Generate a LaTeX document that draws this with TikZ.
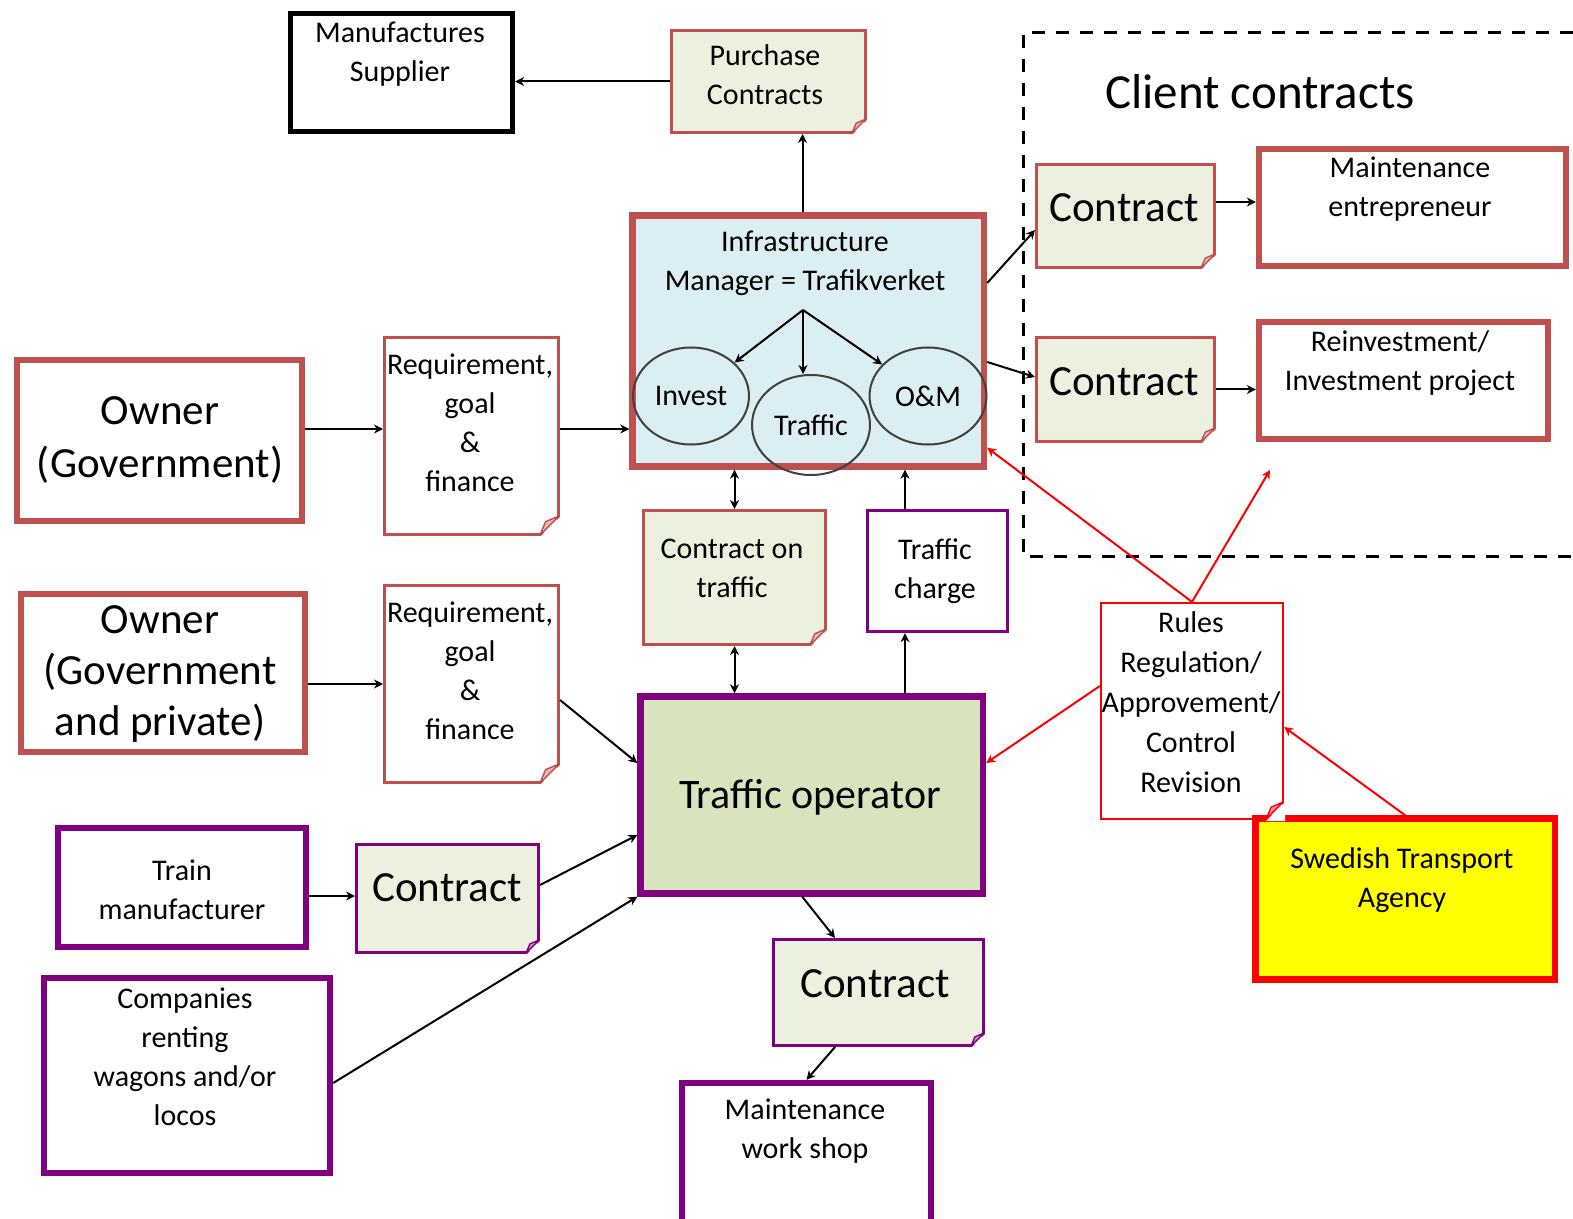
\documentclass[tikz,border=0pt]{standalone}
\usepackage{fontspec}
\setmainfont{Carlito}
\usetikzlibrary{arrows.meta,calc,fit,shapes.geometric}

\definecolor{brick}{HTML}{C0504D}
\definecolor{plum}{HTML}{800080}
\definecolor{paper}{HTML}{EBF1DE}
\definecolor{sky}{HTML}{DAEEF3}
\definecolor{olive}{HTML}{D7E4BD}
\definecolor{lemon}{HTML}{FFFF00}
\definecolor{signal}{HTML}{FF0000}

\tikzset{
  box/.style={rectangle, inner sep=0pt, fill=white},
  heavy/.style={box, line width=3.2pt},
  note/.style={box, fill=paper, line width=1.5pt},
  small/.style={font=\fontsize{15}{19.5}\selectfont, align=center, inner sep=0pt},
  large/.style={font=\fontsize{21.5}{26.5}\selectfont, align=center, inner sep=0pt},
  title/.style={font=\fontsize{24.5}{29}\selectfont, inner sep=0pt},
  conn/.style={line width=1pt, -{Stealth[length=4.5pt,width=4.5pt]}},
  twoway/.style={line width=1pt, {Stealth[length=4.5pt,width=4.5pt]}-{Stealth[length=4.5pt,width=4.5pt]}},
  redconn/.style={conn, draw=signal, color=signal},
  bubble/.style={ellipse, draw=black!75, line width=1pt, inner sep=0pt,
    font=\fontsize{15}{19.5}\selectfont},
}

% folded lower right corner of a note box: node, colour, size
\newcommand\dogear[3]{%
  \fill[white] ($(#1.south east)+(-#3,1)$) -- ($(#1.south east)+(1,1)$)
     -- ($(#1.south east)+(1,-#3)$) -- cycle;
  \filldraw[draw=#2, fill=#2!40, line width=0.7pt, line join=round]
     ($(#1.south east)+(-#3,-1)$) -- ($(#1.south east)+(-1,-#3)$)
     -- ($(#1.south east)+(-0.72*#3,-0.72*#3)$) -- cycle;
}

\begin{document}
\begin{tikzpicture}[x=0.5pt,y=-0.5pt]
\useasboundingbox (0,0) rectangle (1573,1219);
\clip (0,0) rectangle (1573,1219);

% frame around the client contracts
\draw[line width=1.5pt, dash pattern=on 6.5pt off 5.5pt]
  (1573,33) -- (1023,33) -- (1023,556) -- (1573,556);
\node[title] (cc-t) at (1260,92) {Client contracts};

% boxes
\node[heavy, draw=black, line width=2.6pt, fit={(290.5,13.5) (512.5,131.5)}] (ms) {};
\node[note, draw=brick, fit={(671.5,30.5) (865.5,132.5)}] (pc) {};
\node[note, draw=brick, fit={(1036.5,164.5) (1214.5,267.5)}] (c1) {};
\node[heavy, draw=brick, fit={(1259,149) (1566,266)}] (me) {};
\node[note, draw=brick, fit={(1036.5,337.5) (1214.5,441.5)}] (c2) {};
\node[heavy, draw=brick, fit={(1259,322) (1548,439)}] (ri) {};
\node[heavy, draw=brick, fill=sky, fit={(632.5,215.5) (984,466.5)}] (im) {};
\node[heavy, draw=brick, fit={(17,360) (302,521)}] (o1) {};
\node[note, draw=brick, fill=white, fit={(384.5,337.5) (558.5,534.5)}] (r1) {};
\node[heavy, draw=brick, fit={(21,594) (305,752)}] (o2) {};
\node[note, draw=brick, fill=white, fit={(384.5,585.5) (558.5,782.5)}] (r2) {};
\node[note, draw=brick, fit={(643.5,510.5) (825.5,644.5)}] (ct) {};
\node[box, draw=plum, line width=1.6pt, fit={(867.5,510.5) (1007.5,631.5)}] (tc) {};
\node[heavy, draw=plum, fill=olive, fit={(640.5,696.5) (983,893.5)}] (to) {};
\node[box, draw=signal, line width=1.1pt, fit={(1101,603) (1283,819)}] (ru) {};
\node[heavy, draw=signal, fill=lemon, fit={(1255.5,818.5) (1555,979.5)}] (sta) {};
\node[heavy, draw=plum, fit={(58,828) (306,947)}] (tm) {};
\node[note, draw=plum, fit={(356.5,844.5) (538.5,952.5)}] (cb) {};
\node[heavy, draw=plum, fit={(44,978) (330,1173)}] (co) {};
\node[note, draw=plum, fit={(773.5,939.5) (983.5,1045.5)}] (cm) {};
\node[heavy, draw=plum, fit={(682,1083) (931,1240)}] (mw) {};

% folded corners
\dogear{pc}{brick}{15}
\dogear{c1}{brick}{15}
\dogear{c2}{brick}{15}
\dogear{r1}{brick}{20}
\dogear{r2}{brick}{20}
\dogear{ct}{brick}{17}
\dogear{cb}{plum}{14}
\dogear{cm}{plum}{14}
\dogear{ru}{signal}{18}

% the three activities of the infrastructure manager
\node[bubble, minimum width=58pt, minimum height=48.5pt] (ei) at (691,396) {Invest};
\node[bubble, minimum width=59pt, minimum height=50pt] (et) at (811,425) {Traffic};
\node[bubble, minimum width=58.5pt, minimum height=48.5pt] (eo) at (928,396) {O\&M};
\coordinate (hub) at (803,310);

% texts
\node[small] (ms-t) at (400,54) {Manufactures\\Supplier};
\node[small] (pc-t) at (765,75) {Purchase\\Contracts};
\node[large] (c1-t) at (1124,208) {Contract};
\node[small] (me-t) at (1410,189) {Maintenance\\entrepreneur};
\node[large] (c2-t) at (1124,382) {Contract};
\node[small] (ri-t) at (1400,363) {Reinvestment/\\Investment project};
\node[small] (im-t) at (805,263) {Infrastructure\\Manager = Trafikverket};
\node[large] (o1-t) at (160,440) {Owner\\(Government)};
\node[small] (r1-t) at (470,423) {Requirement,\\goal\\\&\\finance};
\node[large, font=\fontsize{21.5}{25.5}\selectfont] (o2-t) at (160,674) {Owner\\(Government\\and private)};
\node[small] (r2-t) at (470,671) {Requirement,\\goal\\\&\\finance};
\node[small] (ct-t) at (732,568) {Contract on\\traffic};
\node[small] (tc-t) at (935,571) {Traffic\\charge};
\node[large, font=\fontsize{21}{26}\selectfont] (to-t) at (810,797) {Traffic operator};
\node[small, font=\fontsize{15}{20}\selectfont] (ru-t) at (1191,702) {Rules\\Regulation/\\Approvement/\\Control\\Revision};
\node[small] (sta-t) at (1402,880) {Swedish Transport\\Agency};
\node[small] (tm-t) at (182,890) {Train\\manufacturer};
\node[large] (cb-t) at (447,888) {Contract};
\node[small] (co-t) at (185,1057) {Companies\\renting\\wagons and/or\\locos};
\node[large] (cm-t) at (875,984) {Contract};
\node[small] (mw-t) at (805,1131) {Maintenance\\work shop};

% helper points for offset connectors
\coordinate (pcs) at ([xshift=17pt]pc.south);
\coordinate (tcs) at ([xshift=-16.25pt]tc.south);
\coordinate (tcn) at ([xshift=-16.25pt]tc.north);
\coordinate (ruend) at (1270,470);

% black connectors
\draw[conn] (pc.west) -- (pc.west -| ms.east);
\draw[conn] (pcs |- im.north) -- (pcs);
\draw[conn] ([yshift=29pt]im.east) -- ([yshift=-7pt]c1.west);
\draw[conn] ([yshift=-10.5pt]im.east) -- ([yshift=6.25pt]c2.west);
\draw[conn] ([yshift=7pt]c1.east) -- ([yshift=7pt]c1.east -| me.west);
\draw[conn] (c2.east) -- (c2.east -| ri.west);
\draw[conn] ([yshift=5.75pt]o1.east) -- ([yshift=5.75pt]o1.east -| r1.west);
\draw[conn] ([yshift=3.5pt]r1.east) -- ([yshift=3.5pt]r1.east -| im.west);
\draw[conn] ([yshift=-5.5pt]o2.east) -- ([yshift=-5.5pt]o2.east -| r2.west);
\draw[conn] ([yshift=-8pt]r2.east) -- ([yshift=16pt]to.west);
\draw[twoway] (ct.north) -- (ct.north |- im.south);
\draw[twoway] (ct.south) -- (ct.south |- to.north);
\draw[conn] (tcs |- to.north) -- (tcs);
\draw[conn] (tcn) -- (tcn |- im.south);
\draw[conn] ([yshift=-4.25pt]tm.east) -- ([yshift=-4.25pt]tm.east -| cb.west);
\draw[conn] ([yshift=6.75pt]cb.east) -- ([yshift=-20pt]to.west);
\draw[conn] ([yshift=-3.75pt]co.east) -- (to.south west);
\draw[conn] ([xshift=-4.75pt]to.south) -- ([xshift=-21.75pt]cm.north);
\draw[conn] ([xshift=-21.75pt]cm.south) -- (mw.north);

% inside the infrastructure manager
\draw[conn] (hub) -- (ei);
\draw[conn] (hub) -- (hub |- et.north);
\draw[conn] (hub) -- (eo);

% red connectors from the rules
\draw[redconn] (ru.north) -- ([yshift=11pt]im.south east);
\draw[redconn] (ru.north) -- (ruend);
\draw[redconn] ([yshift=12.5pt]ru.west) -- ([yshift=16pt]to.east);
\draw[redconn] (sta.north) -- ([yshift=-8pt]ru.east);
\end{tikzpicture}
\end{document}
